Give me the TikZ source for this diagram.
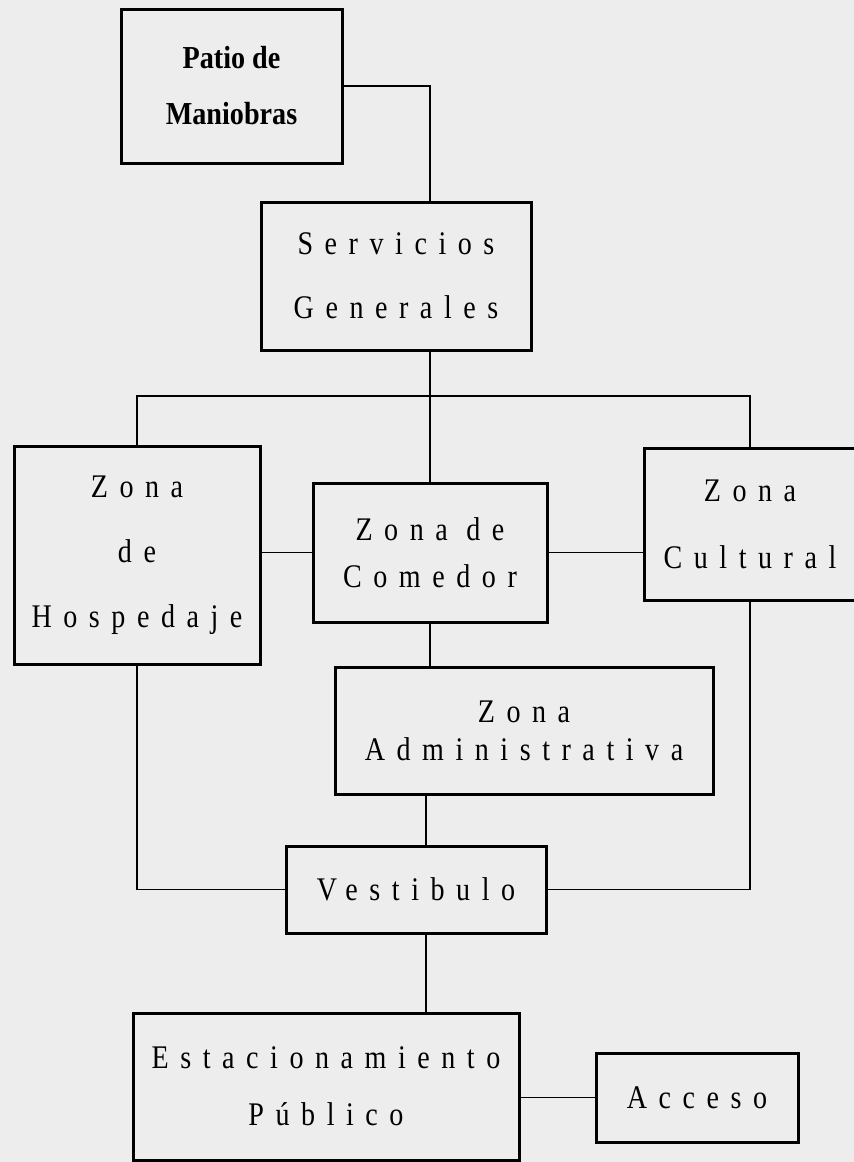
\documentclass[tikz,border=0pt]{standalone}
\usepackage{fontspec}
\usepackage{tikz}
\newfontfamily\typefont[LetterSpace=35, FakeStretch=0.85]{Liberation Serif}
\newfontfamily\patiofont[FakeStretch=0.88]{Liberation Serif}
\tikzstyle{zone} = [rectangle, draw=black, line width=3pt, inner sep=0pt, align=center, text centered, font=\typefont\fontsize{33}{38}\selectfont]
\tikzstyle{patio} = [zone, font=\patiofont\bfseries\fontsize{32}{37}\selectfont]
\tikzstyle{link} = [line width=1.5pt]

\begin{document}
\begin{tikzpicture}[x=1pt, y=-1pt]
		\useasboundingbox (0,0) rectangle (854,1162);
		\fill [black!7] (0,0) rectangle (854,1162);
		% areas
		\node(patio) [patio, minimum width=221pt, minimum height=154pt] at (231.5,86) {Patio de\\[19pt]Maniobras};
		\node(serv) [zone, minimum width=270pt, minimum height=148pt] at (396,276) {Servicios\\[26pt]Generales};
		\node(hosp) [zone, minimum width=246pt, minimum height=218pt] at (137,555) {Zona\\[27pt]de\\[27pt]Hospedaje};
		\node(com) [zone, minimum width=234pt, minimum height=139pt] at (430,552.5) {Zona de\\[9pt]Comedor};
		\node(cult) [zone, minimum width=212pt, minimum height=152pt] at (750,524) {Zona\\[29pt]Cultural};
		\node(adm) [zone, minimum width=378pt, minimum height=127pt] at (524,730.5) {Zona\\[0pt]Administrativa};
		\node(vest) [zone, minimum width=260pt, minimum height=87pt] at (416,889.5) {Vestibulo};
		\node(est) [zone, minimum width=386pt, minimum height=147pt] at (326,1086.5) {Estacionamiento\\[19pt]Público};
		\node(acc) [zone, minimum width=202pt, minimum height=89pt] at (697,1097.5) {Acceso};
		% trunk and bar
		\coordinate (bar) at (430,396);
		\coordinate (low) at (426,0);
		\draw [link] (patio.east) -| (serv.north -| com.north);
		\draw [link] (serv.south -| com.north) -- (com.north);
		\draw [link] (hosp.north) |- (bar) -| (cult.north);
		% links between areas
		\draw [link] (com.west) -- (com.west -| hosp.east);
		\draw [link] (com.east) -- (com.east -| cult.west);
		\draw [link] (com.south) -- (com.south |- adm.north);
		\draw [link] (adm.south -| low) -- (vest.north -| low);
		\draw [link] (hosp.south) |- (vest.west);
		\draw [link] (cult.south) |- (vest.east);
		\draw [link] (vest.south -| low) -- (est.north -| low);
		\draw [link] (acc.west) -- (acc.west -| est.east);
	\end{tikzpicture}
\end{document}
